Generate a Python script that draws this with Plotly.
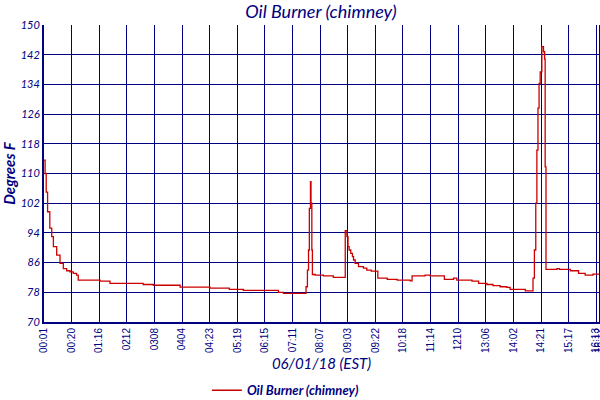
import plotly.graph_objects as go

# sample positions on the category axis (one unit per labelled tick) and temperatures
pos = [0.00, 0.04, 0.08, 0.13, 0.21, 0.28, 0.34, 0.46, 0.58, 0.70, 0.82, 0.94, 1.06, 1.18, 1.24,
       2.03, 2.39, 3.59, 3.96, 4.93, 6.01, 6.71, 7.22, 8.49, 8.67,
       9.49, 9.54, 9.58, 9.61, 9.65, 9.67, 9.70, 9.72, 9.82, 10.12, 10.48,
       10.91, 10.97, 11.01, 11.05, 11.11, 11.17, 11.21, 11.27, 11.39, 11.57, 11.69, 11.85,
       12.09, 12.43, 12.79, 13.26, 13.33, 13.80, 13.99, 14.50, 14.83, 14.95, 15.50, 15.74,
       16.04, 16.26, 16.52, 16.76, 16.88, 17.43,
       17.71, 17.76, 17.81, 17.85, 17.89, 17.93, 17.97, 18.03, 18.09, 18.13, 18.15, 18.18,
       18.58, 18.67, 19.06, 19.36, 19.60, 19.88, 20.11]
temp_f = [113.6, 110.0, 105.0, 99.7, 95.3, 93.0, 90.3, 88.0, 85.8, 84.4, 83.8, 83.5, 83.1, 82.6, 81.3,
          81.0, 80.4, 80.1, 79.9, 79.4, 79.1, 78.8, 78.5, 78.0, 77.7,
          79.5, 84.0, 89.4, 100.6, 107.8, 102.0, 89.4, 82.8, 82.6, 82.4, 82.0,
          94.6, 93.0, 90.3, 89.4, 88.5, 87.6, 86.7, 85.8, 84.9, 84.5, 84.0, 83.7,
          81.8, 81.5, 81.3, 81.1, 82.4, 82.6, 82.4, 81.5, 81.8, 81.3, 81.0, 80.4,
          80.1, 79.8, 79.5, 79.3, 78.8, 78.4,
          81.8, 89.4, 102.0, 116.3, 127.6, 134.3, 137.4, 144.2, 142.8, 140.8, 111.8, 84.2,
          84.4, 84.2, 83.8, 83.1, 82.6, 82.9, 82.9]

tick_pos = [0, 1, 2, 3, 4, 5, 6, 7, 8, 9, 10, 11, 12, 13, 14, 15, 16, 17, 18, 19, 20, 20.1]
tick_text = ["00:01", "00:20", "01:16", "0212", "0308", "0404", "04:23", "05:19", "06:15", "07:11",
             "08:07", "09:03", "09:22", "10:18", "11:14", "1210", "13:06", "14:02", "14:21", "15:17",
             "16:13", "16:12"]
y_ticks = [70, 78, 86, 94, 102, 110, 118, 126, 134, 142, 150]

navy = "#000080"

fig = go.Figure(go.Scatter(x=pos, y=temp_f, mode="lines", line=dict(color="#CC0000", width=1.3, shape="hv"),
                           name="Oil Burner (chimney)"))

fig.update_layout(
    width=600, height=400, margin=dict(l=44, r=1, t=25, b=78, autoexpand=False),
    paper_bgcolor="white", plot_bgcolor="white",
    title=dict(text="Oil Burner (chimney)", x=0.535, xanchor="center", y=0.972, yanchor="middle",
               font=dict(family="Lato", size=18, color=navy, style="italic")),
    xaxis=dict(range=[0, 20.1], tickvals=tick_pos, ticktext=tick_text, tickangle=-90,
               tickfont=dict(family="Liberation Sans", size=10, color=navy),
               ticklabeloverflow="allow", automargin=False,
               showgrid=True, gridcolor=navy, gridwidth=1, showline=True, linecolor=navy, linewidth=2,
               ticks="", zeroline=False,
               title=dict(text="06/01/18 (EST)", standoff=6,
                          font=dict(family="Lato", size=15, color=navy, style="italic"))),
    yaxis=dict(range=[70, 150], tickvals=y_ticks, tickfont=dict(family="Lato", size=11, color=navy, style="italic"),
               automargin=False,
               showgrid=True, gridcolor=navy, gridwidth=1, showline=True, linecolor=navy, linewidth=2,
               mirror=True, ticks="", zeroline=False,
               title=dict(text="Degrees F", standoff=4,
                          font=dict(family="Lato", size=15, color=navy, style="italic", weight="bold"))),
    showlegend=True,
    legend=dict(orientation="h", x=0.435, xanchor="center", y=-0.23, yanchor="middle",
                font=dict(family="Lato", size=13, color=navy, style="italic", weight="bold")),
)

# drop the default page margin so the 600x400 figure fills the window exactly
fig.write_html("out.html", config={"displayModeBar": False},
               post_script="document.body.style.margin='0';document.body.style.overflow='hidden';")
